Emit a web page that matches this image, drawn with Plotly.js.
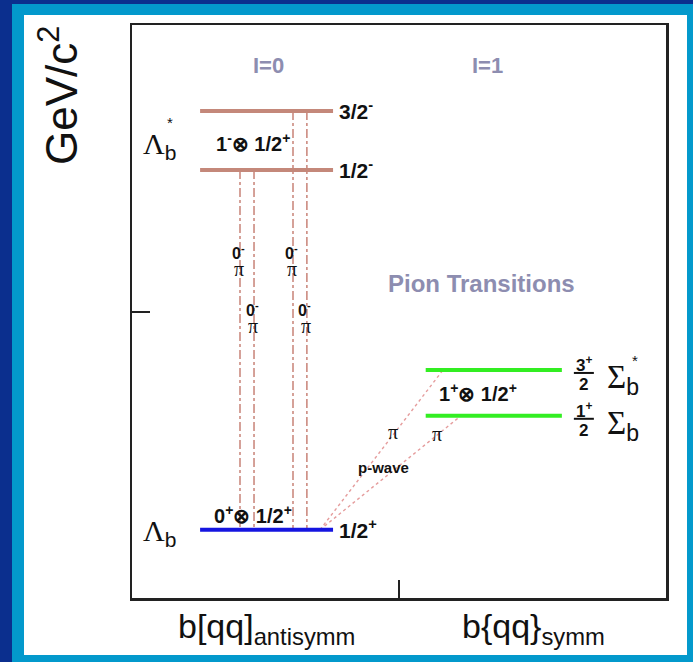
<!DOCTYPE html>
<html><head><meta charset="utf-8">
<script src="https://cdn.plot.ly/plotly-3.0.1.min.js"></script>
<style>
html,body{margin:0;padding:0;background:#fff;}
#frame{position:absolute;left:0;top:0;width:693px;height:662px;background:#0b2f8e;}
#light{position:absolute;left:12px;top:4px;width:681px;height:658px;background:#0399cc;}
#white{position:absolute;left:24px;top:15px;width:663px;height:640px;background:#fff;}
#chart{position:absolute;left:0;top:0;width:693px;height:662px;}
</style></head><body>
<div id="frame"><div id="light"></div><div id="white"></div></div>
<div id="chart"></div>
<script>
// ---------------- data (relative mass scale) ----------------
const columnLabels = ['b[qq]<sub>antisymm</sub>', 'b{qq}<sub>symm</sub>'];
const columnLabelX = [0.503, 1.505];
const isospinLabels = ['I=0', 'I=1'];
const isospinX = [0.51, 1.33];

// levels: 0 Λb, 1 Λb*(1/2-), 2 Λb*(3/2-), 3 Σb, 4 Σb*
const levelMass  = [11.9, 74.7, 85.0, 31.8, 39.8];
const levelStart = [0.255, 0.255, 0.255, 1.100, 1.100];
const levelEnd   = [0.753, 0.753, 0.753, 1.610, 1.610];
const levelColor = ['#1515e0', '#c4887a', '#c4887a', '#33ee22', '#33ee22'];
const levelJP    = ['1/2<sup>+</sup>', '1/2<sup>-</sup>', '3/2<sup>-</sup>', null, null];
const sigmaNum   = [null, null, null, '1<sup>+</sup>', '3<sup>+</sup>'];
const sigmaDen   = [null, null, null, '2', '2'];

// vertical (s-wave) pion transitions: x, from level, to level, label height
const vTransX    = [0.4045, 0.457, 0.603, 0.655];
const vTransFrom = [1, 1, 2, 2];
const vTransTo   = [0, 0, 0, 0];
const vLabelMass = [58.8, 48.9, 58.8, 48.9];

// diagonal (p-wave) pion transitions
const dTransFromX = [0.704, 0.704];
const dTransToX   = [1.165, 1.232];
const dTransFrom  = [0, 0];
const dTransTo    = [4, 3];

// ---------------- helpers ----------------
const SANS = 'Arial, "Liberation Sans", sans-serif';
const SERIF = '"Times New Roman", "Liberation Serif", serif';
// plot area: x 132..666 px -> 0..2, y 598..25 px -> 0..100
const PX = p => (p - 132) / 534 * 2;
const PY = p => (598 - p) / 573 * 100;
const PAPX = p => (p - 132) / 534;
const PAPY = p => (598 - p) / 573;

const traces = [];
// vertical transitions
vTransX.forEach((x, i) => {
  traces.push({x: [x, x], y: [levelMass[vTransFrom[i]], levelMass[vTransTo[i]]],
    mode: 'lines', line: {color: '#c47a6e', width: 1.4, dash: 'dashdot'},
    hoverinfo: 'skip', showlegend: false});
});
// diagonal transitions
dTransFromX.forEach((x, i) => {
  traces.push({x: [x, dTransToX[i]], y: [levelMass[dTransFrom[i]], levelMass[dTransTo[i]]],
    mode: 'lines', line: {color: '#e59c9c', width: 1.4, dash: 'dot'},
    hoverinfo: 'skip', showlegend: false});
});
// levels
levelMass.forEach((m, i) => {
  traces.push({x: [levelStart[i], levelEnd[i]], y: [m, m], mode: 'lines',
    line: {color: levelColor[i], width: 4}, hoverinfo: 'skip', showlegend: false});
});

const ann = [];
const bold = (s) => '<b>' + s + '</b>';
const INK = '#111';
// isospin headers
isospinLabels.forEach((t, i) => ann.push({x: isospinX[i], y: PY(65), text: bold(t),
  showarrow: false, font: {family: SANS, size: 22, color: '#8d8db0'}}));
ann.push({x: PX(481), y: PY(283), text: bold('Pion Transitions'), showarrow: false,
  font: {family: SANS, size: 24, color: '#8d8db0'}});
// JP labels of Λ levels
levelJP.forEach((t, i) => { if (t) ann.push({x: levelEnd[i], y: levelMass[i], text: bold(t),
  xanchor: 'left', yanchor: 'middle', xshift: 4, yshift: 1, showarrow: false,
  font: {family: SANS, size: 21, color: INK}}); });
// Σ fractions
sigmaNum.forEach((t, i) => { if (t) {
  ann.push({x: levelEnd[i], y: levelMass[i], text: bold(t), xshift: 22, yshift: 6,
    showarrow: false, font: {family: SANS, size: 17, color: INK}});
  ann.push({x: levelEnd[i], y: levelMass[i], text: bold(sigmaDen[i]), xshift: 22, yshift: -15,
    showarrow: false, font: {family: SANS, size: 17, color: INK}});
}});
// Σ names
[3, 4].forEach(i => {
  ann.push({x: levelEnd[i], y: levelMass[i], text: 'Σ<sub><span style="font-family:Arial, Liberation Sans">b</span></sub>',
    xanchor: 'left', xshift: 43, yshift: -10, showarrow: false,
    font: {family: SERIF, size: 33, color: INK}});
});
ann.push({x: levelEnd[4], y: levelMass[4], text: '*', xshift: 73, yshift: 9, showarrow: false,
  font: {family: SANS, size: 15, color: INK}});
// Λ names
[0, 2].forEach((i, k) => {
  const yy = k === 0 ? levelMass[0] : (levelMass[1] + levelMass[2]) / 2;
  ann.push({x: levelStart[i], y: yy, text: 'Λ<sub><span style="font-family:Arial, Liberation Sans">b</span></sub>',
    xanchor: 'right', xshift: -22, yshift: k === 0 ? -3 : -5, showarrow: false,
    font: {family: SERIF, size: 30, color: INK}});
});
ann.push({x: levelStart[2], y: (levelMass[1] + levelMass[2]) / 2, text: '*', xshift: -30, yshift: 18,
  showarrow: false, font: {family: SANS, size: 15, color: INK}});
// configuration labels
ann.push({x: (levelStart[1] + levelEnd[1]) / 2, y: (levelMass[1] + levelMass[2]) / 2,
  text: bold('1<sup>-</sup>⊗ 1/2<sup>+</sup>'), xshift: -14, yshift: -2, showarrow: false,
  font: {family: SANS, size: 20, color: INK}});
ann.push({x: (levelStart[0] + levelEnd[0]) / 2, y: levelMass[0],
  text: bold('0<sup>+</sup>⊗ 1/2<sup>+</sup>'), xshift: -14, yanchor: 'bottom', yshift: 1, showarrow: false,
  font: {family: SANS, size: 20, color: INK}});
ann.push({x: (levelStart[3] + levelEnd[3]) / 2, y: (levelMass[3] + levelMass[4]) / 2,
  text: bold('1<sup>+</sup>⊗ 1/2<sup>+</sup>'), xshift: -16, yshift: 0, showarrow: false,
  font: {family: SANS, size: 20, color: INK}});
// transition labels
vTransX.forEach((x, i) => {
  ann.push({x: x, y: vLabelMass[i], text: bold('0<sup>-</sup>'), xshift: -2, yshift: 9,
    showarrow: false, font: {family: SANS, size: 16, color: INK}});
  ann.push({x: x, y: vLabelMass[i], text: 'π', xshift: -1, yshift: -8,
    showarrow: false, font: {family: SERIF, size: 20, color: INK}});
});
ann.push({x: PX(393), y: PY(432), text: 'π', showarrow: false, font: {family: SERIF, size: 20, color: INK}});
ann.push({x: PX(437), y: PY(434), text: 'π', showarrow: false, font: {family: SERIF, size: 20, color: INK}});
ann.push({x: PX(383), y: PY(467), text: bold('p-wave'), showarrow: false, font: {family: SANS, size: 15, color: INK}});
// column labels (below the frame)
columnLabels.forEach((t, i) => ann.push({xref: 'x', yref: 'paper', x: columnLabelX[i], y: PAPY(628),
  xanchor: 'center', yanchor: 'middle', text: t, showarrow: false,
  font: {family: SANS, size: 34, color: INK}}));
// axis unit
ann.push({xref: 'paper', yref: 'paper', x: PAPX(58), y: PAPY(96), xanchor: 'center', yanchor: 'middle',
  text: 'GeV/c<sup>2</sup>', textangle: -90, showarrow: false, font: {family: SANS, size: 44, color: INK}});

const shapes = [3, 4].map(i => ({type: 'line', xref: 'x', yref: 'y', xsizemode: 'pixel', ysizemode: 'pixel',
  xanchor: levelEnd[i], yanchor: levelMass[i], x0: 12, x1: 32, y0: -3, y1: -3,
  line: {color: INK, width: 2}}));

const axisCommon = {showgrid: false, zeroline: false, showline: true, mirror: true,
  linecolor: '#222', linewidth: 2.5, ticks: 'inside', ticklen: 18, tickwidth: 2,
  tickcolor: '#222', showticklabels: false, fixedrange: true};

Plotly.newPlot('chart', traces, {
  width: 693, height: 662,
  margin: {l: 132, r: 27, t: 25, b: 64},
  paper_bgcolor: 'rgba(0,0,0,0)', plot_bgcolor: 'rgba(0,0,0,0)',
  xaxis: Object.assign({range: [0, 2], tickvals: [1]}, axisCommon),
  yaxis: Object.assign({range: [0, 100], tickvals: [50]}, axisCommon),
  annotations: ann, shapes: shapes
}, {staticPlot: true});
</script>
</body></html>
